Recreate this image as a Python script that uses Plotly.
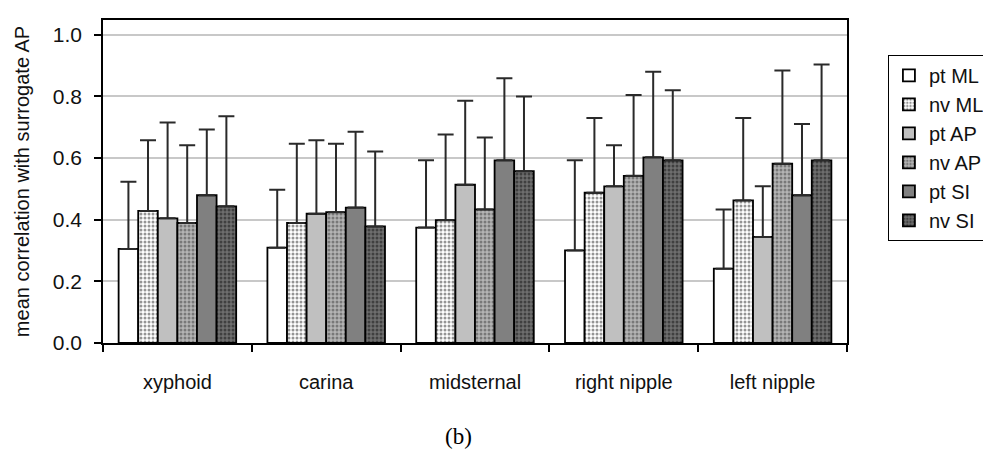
import plotly.graph_objects as go

# Landmark sites on the x axis
sites = ["xyphoid", "carina", "midsternal", "right nipple", "left nipple"]

# Mean correlation with the surrogate AP signal, per series
pt_ml = [0.305, 0.309, 0.374, 0.300, 0.241]
nv_ml = [0.428, 0.389, 0.398, 0.487, 0.462]
pt_ap = [0.404, 0.419, 0.513, 0.508, 0.344]
nv_ap = [0.389, 0.424, 0.433, 0.542, 0.581]
pt_si = [0.479, 0.439, 0.592, 0.602, 0.479]
nv_si = [0.443, 0.378, 0.557, 0.592, 0.592]

# Standard deviations (drawn as upward error bars)
pt_ml_sd = [0.218, 0.188, 0.218, 0.292, 0.192]
nv_ml_sd = [0.229, 0.257, 0.278, 0.242, 0.267]
pt_ap_sd = [0.311, 0.238, 0.272, 0.133, 0.164]
nv_ap_sd = [0.252, 0.222, 0.233, 0.262, 0.302]
pt_si_sd = [0.213, 0.246, 0.266, 0.277, 0.231]
nv_si_sd = [0.292, 0.243, 0.242, 0.227, 0.311]

y_ticks = [0.0, 0.2, 0.4, 0.6, 0.8, 1.0]

series = [
    ("pt ML", pt_ml, pt_ml_sd, "#ffffff", None),
    ("nv ML", nv_ml, nv_ml_sd, "#ffffff", "#2a2a2a"),
    ("pt AP", pt_ap, pt_ap_sd, "#c0c0c0", None),
    ("nv AP", nv_ap, nv_ap_sd, "#b4b4b4", "#3c3c3c"),
    ("pt SI", pt_si, pt_si_sd, "#808080", None),
    ("nv SI", nv_si, nv_si_sd, "#6e6e6e", "#111111"),
]

fig = go.Figure()
for i, (name, vals, sd, bg, dots) in enumerate(series):
    marker = dict(color=bg, line=dict(color="#000000", width=1.8))
    if dots is not None:
        marker["pattern"] = dict(shape=".", fgcolor=dots, bgcolor=bg,
                                 size=4, solidity=0.45, fillmode="overlay")
    fig.add_trace(go.Bar(
        name=name, x=sites, y=vals, marker=marker,
        legendgroup=f"g{i}",
        error_y=dict(type="data", symmetric=False, array=sd,
                     arrayminus=[0] * len(sd), color="#2a2a2a",
                     thickness=2, width=8),
    ))

font_family = "Liberation Sans, Arial, sans-serif"

fig.update_layout(
    width=983, height=454,
    margin=dict(l=103, r=136, t=20, b=111, autoexpand=False),
    paper_bgcolor="#ffffff", plot_bgcolor="#ffffff",
    barmode="group", bargap=0.21, bargroupgap=0,
    font=dict(family=font_family, size=19, color="#111111"),
    showlegend=True,
    legend=dict(
        x=1.055, xanchor="left", y=0.892, yanchor="top",
        bordercolor="#000000", borderwidth=1, bgcolor="#ffffff",
        font=dict(family=font_family, size=20, color="#111111"),
        tracegroupgap=0, traceorder="grouped",
    ),
    xaxis=dict(
        showline=True, linecolor="#000000", linewidth=1.5, mirror=True,
        ticks="outside", tickson="boundaries", ticklen=7,
        tickcolor="#000000", tickwidth=1.5,
        tickfont=dict(size=20), ticklabelstandoff=20,
        showgrid=False,
    ),
    yaxis=dict(
        range=[0, 1.047], tickvals=y_ticks, tickformat=".1f",
        showline=True, linecolor="#000000", linewidth=1.5, mirror=True,
        ticks="outside", ticklen=7, tickcolor="#000000", tickwidth=1.5,
        tickfont=dict(size=21), ticklabelstandoff=8,
        showgrid=True, gridcolor="#c8c8c8", gridwidth=1.5,
        zeroline=False,
        title=dict(text="mean correlation with surrogate AP",
                   font=dict(size=20), standoff=18),
    ),
    annotations=[dict(
        text="(b)", xref="paper", yref="paper", x=0.478, y=-0.29,
        xanchor="center", yanchor="middle", showarrow=False,
        font=dict(family="Liberation Serif, Times New Roman, serif",
                  size=23, color="#000000"),
    )],
)

fig.write_html("out.html")
